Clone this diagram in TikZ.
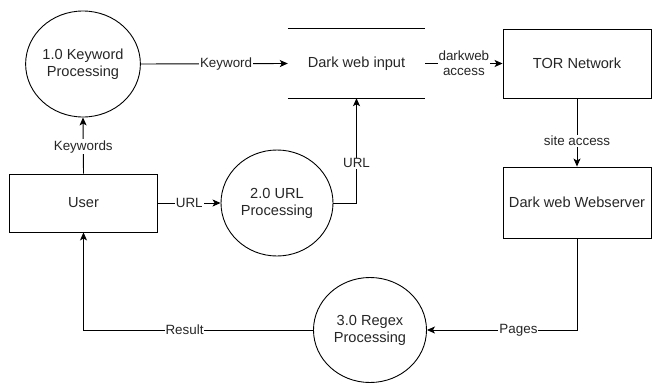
\documentclass[tikz,border=0pt]{standalone}
\usepackage{fontspec}
\setmainfont{Liberation Sans}
\usepackage{tikz}
\usetikzlibrary{positioning, arrows.meta, shapes.geometric}

\begin{document}
\begin{tikzpicture}[
    x=1pt, y=-1pt,
    every node/.style={font=\fontsize{14.6}{17}\selectfont, text=black!85},
    proc/.style={ellipse, draw, line width=0.9pt, align=center, minimum width=112pt, minimum height=106pt, inner sep=0pt},
    ent/.style={rectangle, draw, line width=0.9pt, align=center, minimum width=148pt},
    store/.style={rectangle, align=center, minimum width=137pt, minimum height=69pt},
    lbl/.style={fill=white, inner sep=1pt, align=center, font=\fontsize{13.4}{15}\selectfont},
    arr/.style={-{Stealth[length=8pt, width=7pt, inset=2pt]}, line width=0.9pt},
]
    \useasboundingbox (0,0) rectangle (652,383);

    % --- nodes (pixel coordinates, top-left origin) ---
    \node[proc] (kwproc) at (83, 64) {1.0 Keyword\\Processing};
    \node[store] (dwinput) at (356.5, 63.5) {Dark web input};
    \node[ent, minimum height=69pt] (tor) at (577, 63.5) {TOR Network};

    \node[ent, minimum height=58pt] (user) at (83.5, 203) {User};
    \node[proc] (urlproc) at (277, 203) {2.0 URL\\Processing};
    \node[ent, minimum height=71pt] (websrv) at (577, 202.5) {Dark web Webserver};

    \node[proc, minimum width=113pt, minimum height=105pt] (regex) at (370, 330) {3.0 Regex\\Processing};

    % data store: only top and bottom rules
    \draw[line width=0.9pt] (dwinput.north west) -- (dwinput.north east);
    \draw[line width=0.9pt] (dwinput.south west) -- (dwinput.south east);

    % --- arrows ---
    \draw[arr] (kwproc.east) -- node[lbl, pos=0.58] {Keyword} (dwinput.west);
    \draw[arr] (dwinput.east) -- node[lbl] {darkweb\\access} (tor.west);
    \draw[arr] (tor.south) -- node[lbl, pos=0.62] {site access} (websrv.north);

    \draw[arr] (user.north) -- node[lbl, pos=0.48] {Keywords} (kwproc.south);
    \draw[arr] (user.east) -- node[lbl] {URL} (urlproc.west);
    \draw[arr] (urlproc.east) -| node[lbl, pos=0.69] {URL} (dwinput.south);

    % return path from the webserver down and back to the user
    \draw[arr] (websrv.south) |- node[lbl, pos=0.695] {Pages} (regex.east);
    \draw[arr] (regex.west) -| node[lbl, pos=0.28] {Result} (user.south);
\end{tikzpicture}
\end{document}
